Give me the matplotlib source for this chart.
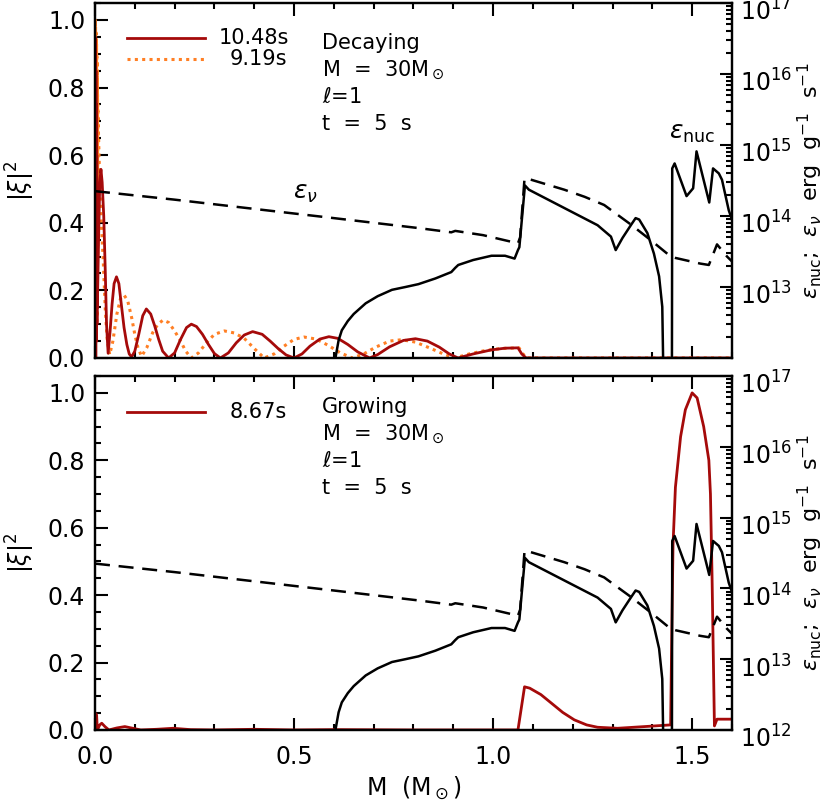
import numpy as np
import matplotlib.pyplot as plt
from matplotlib.transforms import ScaledTranslation
from matplotlib.ticker import MultipleLocator, FixedLocator, LogLocator, NullFormatter, FuncFormatter

plt.rcParams['font.family'] = ['DejaVu Sans']
plt.rcParams['mathtext.fontset'] = 'dejavusans'
plt.rcParams['font.size'] = 15

# eigenfunction |xi|^2, decaying modes (top panel)
m_dec1 = [0.0, 0.0005, 0.001, 0.0015, 0.002, 0.0025, 0.003, 0.0035, 0.004, 0.0045,
          0.005, 0.0055, 0.006,
          0.009, 0.012, 0.015, 0.018, 0.022, 0.026, 0.029, 0.033,
          0.038, 0.043, 0.048, 0.054, 0.06, 0.066, 0.073, 0.08, 0.086, 0.092,
          0.1, 0.11, 0.12, 0.129, 0.14, 0.15, 0.16, 0.17, 0.185,
          0.2, 0.215, 0.23, 0.242, 0.255, 0.27, 0.285, 0.3, 0.315,
          0.335, 0.355, 0.375, 0.396, 0.42, 0.44, 0.46, 0.48, 0.5,
          0.52, 0.54, 0.565, 0.5875, 0.61, 0.635, 0.66, 0.69,
          0.71, 0.74, 0.775, 0.805, 0.835, 0.865, 0.89, 0.912,
          0.95, 0.996, 1.03, 1.0625, 1.072, 1.083, 1.3, 1.6]
xi_dec1 = [0.0, 0.95, 0.05, 0.9, 0.0, 0.85, 0.05, 0.75, 0.05, 0.6,
           0.1, 0.5, 0.15,
           0.35, 0.52, 0.558, 0.52, 0.42, 0.25, 0.1, 0.014,
           0.08, 0.16, 0.22, 0.24, 0.22, 0.16, 0.09, 0.04, 0.012, 0.003,
           0.02, 0.07, 0.125, 0.145, 0.13, 0.095, 0.055, 0.02, 0.0,
           0.015, 0.055, 0.09, 0.10, 0.093, 0.07, 0.04, 0.013, 0.0,
           0.015, 0.045, 0.068, 0.078, 0.07, 0.05, 0.028, 0.009, 0.0,
           0.012, 0.035, 0.056, 0.063, 0.058, 0.04, 0.018, 0.0,
           0.01, 0.033, 0.052, 0.057, 0.05, 0.032, 0.012, 0.0,
           0.012, 0.024, 0.029, 0.03, 0.012, 0.0, 0.0, 0.0]

m_dec2 = [0.0, 0.00025, 0.0005, 0.00075, 0.001, 0.00125, 0.0015, 0.00175, 0.002,
          0.00225, 0.0025, 0.00275, 0.003, 0.00325, 0.0035, 0.00375, 0.004,
          0.00425, 0.0045, 0.00475, 0.005, 0.00525, 0.0055, 0.00575, 0.006,
          0.00625, 0.0065, 0.00675, 0.007,
          0.008, 0.012, 0.016, 0.021, 0.026, 0.031, 0.037,
          0.045, 0.055, 0.064, 0.073, 0.082, 0.092, 0.1, 0.108, 0.117,
          0.13, 0.145, 0.158, 0.171, 0.185, 0.2, 0.215, 0.228, 0.242,
          0.26, 0.28, 0.3, 0.325, 0.35, 0.375, 0.4, 0.425,
          0.45, 0.475, 0.5, 0.525, 0.555, 0.585, 0.615, 0.646,
          0.675, 0.705, 0.74, 0.77, 0.805, 0.84, 0.875, 0.904,
          0.94, 0.98, 1.02, 1.065, 1.075, 1.085, 1.6]
xi_dec2 = [1.0, 0.02, 1.0, 0.03, 0.99, 0.04, 0.98, 0.05, 0.97,
           0.06, 0.96, 0.07, 0.95, 0.08, 0.94, 0.09, 0.93,
           0.1, 0.9, 0.12, 0.88, 0.15, 0.85, 0.18, 0.82,
           0.22, 0.78, 0.3, 0.75,
           0.7, 0.52, 0.4, 0.28, 0.14, 0.05, 0.01,
           0.05, 0.13, 0.175, 0.186, 0.17, 0.12, 0.07, 0.03, 0.005,
           0.03, 0.075, 0.1, 0.112, 0.105, 0.08, 0.05, 0.02, 0.0,
           0.015, 0.045, 0.07, 0.08, 0.074, 0.058, 0.028, 0.0,
           0.012, 0.035, 0.055, 0.062, 0.056, 0.038, 0.016, 0.0,
           0.012, 0.032, 0.05, 0.054, 0.047, 0.03, 0.012, 0.0,
           0.012, 0.022, 0.028, 0.03, 0.012, 0.0, 0.0]

# growing mode (bottom panel)
m_grow = [0.0, 0.004, 0.006, 0.012, 0.017, 0.025, 0.035, 0.055, 0.075, 0.095,
          0.115, 0.155, 0.196, 0.24, 0.3, 0.4, 0.5, 0.6, 0.8, 1.0, 1.0625,
          1.079, 1.092, 1.12, 1.146, 1.175, 1.204, 1.235, 1.2625, 1.3125, 1.38,
          1.446, 1.449, 1.452, 1.458, 1.471, 1.483, 1.5, 1.5125, 1.529, 1.542, 1.546,
          1.55, 1.556, 1.5625, 1.6]
xi_grow = [0.051, 0.045, 0.0, 0.015, 0.02, 0.01, 0.0, 0.006, 0.01, 0.005,
           0.0, 0.002, 0.005, 0.001, 0.0, 0.002, 0.0, 0.001, 0.0, 0.0, 0.0,
           0.128, 0.124, 0.105, 0.08, 0.052, 0.03, 0.015, 0.008, 0.005, 0.01,
           0.015, 0.3, 0.55, 0.72, 0.87, 0.95, 1.0, 0.985, 0.90, 0.80, 0.70,
           0.457, 0.012, 0.032, 0.032]

# log10 of neutrino losses (dashed) and nuclear energy generation (solid)
m_nu = [0.0, 0.2, 0.4, 0.6, 0.8125, 0.895, 0.905, 0.975, 1.0625, 1.068, 1.079,
        1.09, 1.179, 1.23, 1.279, 1.346, 1.396, 1.446, 1.4575, 1.52, 1.542, 1.5625,
        1.5875, 1.6]
lg_nu = [14.35, 14.23, 14.1, 13.97, 13.83, 13.77, 13.79, 13.73, 13.615, 13.7, 14.53,
         14.52, 14.37, 14.27, 14.155, 13.88, 13.66, 13.43, 13.41, 13.33, 13.31, 13.6,
         13.43, 13.36]

m_nuc = [0.604, 0.612, 0.62, 0.635, 0.65, 0.68, 0.71, 0.746, 0.78, 0.8125, 0.855,
         0.895, 0.905, 0.9125, 0.95, 0.996, 1.03, 1.054, 1.0625, 1.066, 1.08, 1.09,
         1.19, 1.2625, 1.296, 1.308, 1.325, 1.346, 1.358, 1.367, 1.3875, 1.404,
         1.417, 1.425, 1.427, 1.428, 1.449, 1.45, 1.456, 1.486, 1.5025, 1.511,
         1.543, 1.5525, 1.567, 1.575, 1.592, 1.6]
lg_nuc = [12.0, 12.25, 12.39, 12.52, 12.62, 12.77, 12.87, 12.96, 13.0, 13.04, 13.12,
          13.21, 13.27, 13.31, 13.38, 13.44, 13.44, 13.40, 13.52, 13.56, 14.43, 14.37,
          14.08, 13.87, 13.71, 13.52, 13.69, 13.87, 13.97, 13.95, 13.76, 13.47,
          13.15, 12.72, 12.02, 11.0, 11.0, 14.67, 14.74, 14.28, 14.39, 14.91,
          14.19, 14.67, 14.60, 14.51, 14.08, 13.95]

red = '#A50A0A'
orange = '#FF7F24'
tick_fs = 17

fig = plt.figure(figsize=(8.31, 8.09), dpi=100)
ax1 = fig.add_axes([0.1143, 0.5575, 0.7665, 0.4388])
ax2 = fig.add_axes([0.1143, 0.0977, 0.7665, 0.4375])


def exp_fmt(v, pos):
    return r'$10^{%d}$' % round(np.log10(v))


def setup(ax, bottom_panel):
    r = ax.twinx()
    ax.set_xlim(0, 1.6)
    ax.set_ylim(0, 1.05)
    ax.xaxis.set_major_locator(MultipleLocator(0.5))
    ax.xaxis.set_minor_locator(MultipleLocator(0.1))
    ax.yaxis.set_major_locator(MultipleLocator(0.2))
    ax.yaxis.set_minor_locator(MultipleLocator(0.05))
    ax.yaxis.set_major_formatter(FuncFormatter(lambda v, p: '%.1f' % v))
    ax.xaxis.set_major_formatter(FuncFormatter(lambda v, p: '%.1f' % v))
    ax.tick_params(which='both', direction='in', top=True, right=False, width=1.5,
                   labelsize=tick_fs)
    ax.tick_params(which='major', length=9)
    ax.tick_params(which='minor', length=4.5)
    ax.tick_params(axis='y', pad=7)
    ax.tick_params(axis='x', pad=11)
    if not bottom_panel:
        ax.tick_params(axis='x', labelbottom=False)

    r.set_yscale('log')
    r.set_ylim(1e12, 1e17)
    if bottom_panel:
        r.yaxis.set_major_locator(FixedLocator([1e12, 1e13, 1e14, 1e15, 1e16, 1e17]))
    else:
        r.yaxis.set_major_locator(FixedLocator([1e13, 1e14, 1e15, 1e16, 1e17]))
    r.yaxis.set_major_formatter(FuncFormatter(exp_fmt))
    r.yaxis.set_minor_locator(LogLocator(base=10, subs=np.arange(2, 10)))
    r.yaxis.set_minor_formatter(NullFormatter())
    r.tick_params(which='both', direction='in', width=1.5, pad=6, labelsize=tick_fs)
    r.tick_params(which='major', length=9)
    r.tick_params(which='minor', length=4.5)
    shift = ScaledTranslation(0, -5 / 72, fig.dpi_scale_trans)
    for lab in r.get_yticklabels():
        lab.set_transform(lab.get_transform() + shift)
    for a in (ax, r):
        for s in a.spines.values():
            s.set_linewidth(1.6)

    r.plot(m_nu, 10 ** np.array(lg_nu), color='black', lw=1.8, ls=(0, (6, 3.5)))
    r.plot(m_nuc, 10 ** np.array(lg_nuc), color='black', lw=1.8)
    ax.set_ylabel(r'$|\xi|^2$', fontsize=17, labelpad=8)
    r.set_ylabel(r'$\epsilon_{\mathrm{nuc}}$;  $\epsilon_\nu$  erg  g$^{-1}$  s$^{-1}$',
                 fontsize=16, labelpad=2)
    return r


r1 = setup(ax1, False)
r2 = setup(ax2, True)

# top panel: decaying modes
ax1.plot(m_dec2, xi_dec2, color=orange, lw=2.2, ls=(0, (1, 1.4)))
ax1.plot(m_dec1, xi_dec1, color=red, lw=2.0)
ax1.plot([0.0503, 0.1728], [0.901, 0.901], color=red, lw=2.0, transform=ax1.transAxes)
ax1.plot([0.0503, 0.1728], [0.842, 0.842], color=orange, lw=2.2, ls=(0, (1, 1.4)),
         transform=ax1.transAxes)
ax1.text(0.305, 0.901, '10.48s', transform=ax1.transAxes, ha='right', va='center')
ax1.text(0.302, 0.842, '9.19s', transform=ax1.transAxes, ha='right', va='center')
info_top = ['Decaying', r'M  =  30M$_\odot$', r'$\ell$=1', 't  =  5  s']
for i, s in enumerate(info_top):
    ax1.text(0.3565, 0.887 - 0.076 * i, s, transform=ax1.transAxes, ha='left', va='center')
ax1.text(0.331, 0.465, r'$\epsilon_\nu$', transform=ax1.transAxes, ha='center',
         va='center', fontsize=18)
ax1.text(0.938, 0.634, r'$\epsilon_{\mathrm{nuc}}$', transform=ax1.transAxes,
         ha='center', va='center', fontsize=18)

# bottom panel: growing mode
ax2.plot(m_grow, xi_grow, color=red, lw=2.0)
ax2.plot([0.0503, 0.1728], [0.898, 0.898], color=red, lw=2.0, transform=ax2.transAxes)
ax2.text(0.302, 0.898, '8.67s', transform=ax2.transAxes, ha='right', va='center')
info_bot = ['Growing', r'M  =  30M$_\odot$', r'$\ell$=1', 't  =  5  s']
for i, s in enumerate(info_bot):
    ax2.text(0.3565, 0.912 - 0.076 * i, s, transform=ax2.transAxes, ha='left', va='center')
ax2.set_xlabel(r'M  (M$_\odot$)', fontsize=17, labelpad=4)

fig.savefig('out.png', dpi=100)
